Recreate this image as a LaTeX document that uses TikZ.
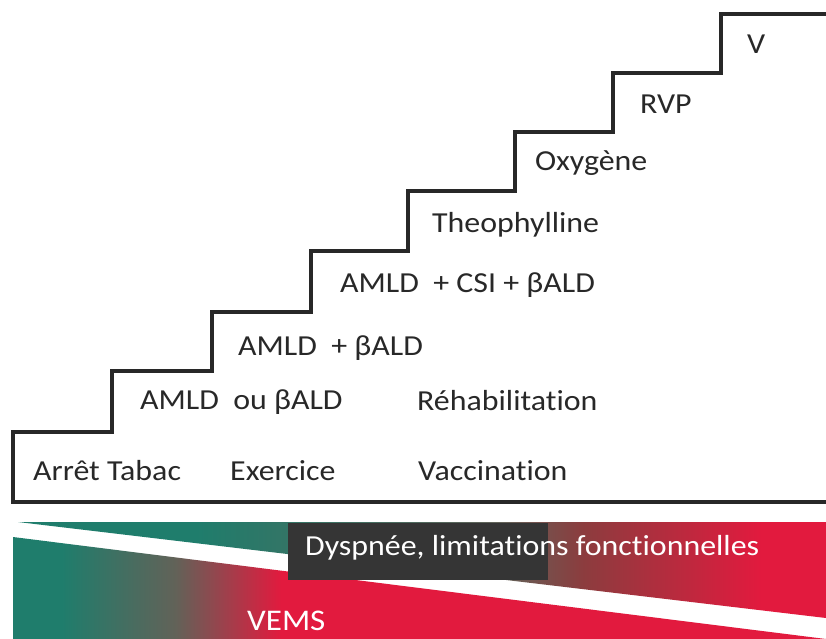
\documentclass[tikz,border=0pt]{standalone}
\usepackage{fontspec}
\setmainfont{Carlito}[Ligatures=NoCommon,FakeStretch=1.1]
\usepackage{tikz}

\definecolor{tealc}{RGB}{31,125,108}
\definecolor{grayc}{RGB}{98,98,88}
\definecolor{brownc}{RGB}{140,60,62}
\definecolor{redc}{RGB}{226,26,62}
\definecolor{boxc}{RGB}{53,53,53}
\definecolor{inkc}{RGB}{40,40,40}

% gradients, path box mapped onto 25bp..75bp
\pgfdeclarehorizontalshading{dyspshade}{100bp}{color(0bp)=(tealc); color(36bp)=(tealc); color(55bp)=(grayc); color(60bp)=(brownc); color(71bp)=(redc); color(100bp)=(redc)}
\pgfdeclarehorizontalshading{vemsshade}{100bp}{color(0bp)=(tealc); color(28bp)=(tealc); color(35bp)=(grayc); color(41.5bp)=(redc); color(100bp)=(redc)}

\begin{document}
\begin{tikzpicture}[x=1pt,y=-1pt,
    stair/.style={draw=inkc,line width=3.5pt,line join=miter},
    treat/.style={anchor=base west,inner sep=0pt,text=inkc,font=\fontsize{29}{34}\selectfont},
    band/.style={anchor=base west,inner sep=0pt,text=white,font=\fontsize{29}{34}\selectfont}]
    \useasboundingbox (0,0) rectangle (826,638);

    % staircase
    \draw [stair] (826,14) -- (721,14) -- (721,73) -- (613,73) -- (613,132)
      -- (515,132) -- (515,191) -- (408,191) -- (408,251) -- (311,251)
      -- (311,312) -- (212,312) -- (212,371) -- (112,371) -- (112,432)
      -- (13,432) -- (13,502) -- (826,502);

    \node [treat] (v) at (747,53) {V};
    \node [treat] (rvp) at (640,113) {RVP};
    \node [treat] (oxy) at (535,170) {Oxygène};
    \node [treat] (theo) at (432,232) {Theophylline};
    \node [treat] (csi) at (340,292) {AMLD~ + CSI + βALD};
    \node [treat] (plus) at (238,355) {AMLD~ + βALD};
    \node [treat] (ou) at (140,409) {AMLD~ ou βALD};
    \node [treat] (rehab) at (417,410) {Réhabilitation};
    \node [treat] (tabac) at (33,480) {Arrêt Tabac};
    \node [treat] (exo) at (230,480) {Exercice};
    \node [treat] (vacc) at (418,480) {Vaccination};

    % bottom band
    \begin{scope}
      \clip (0,0) rectangle (826,638);
      \shade [shading=dyspshade] (18,522) -- (826,522) -- (826,618) -- cycle;
      \shade [shading=vemsshade] (13,537) -- (826,639) -- (13,639) -- cycle;
    \end{scope}
    \fill [boxc] (288,523) rectangle (548,580);
    \node [band] (dysp) at (305,555) {Dyspnée, limitations fonctionnelles};
    \node [band,font=\fontsize{30}{35}\selectfont] (vems) at (247,630) {VEMS};
\end{tikzpicture}
\end{document}
